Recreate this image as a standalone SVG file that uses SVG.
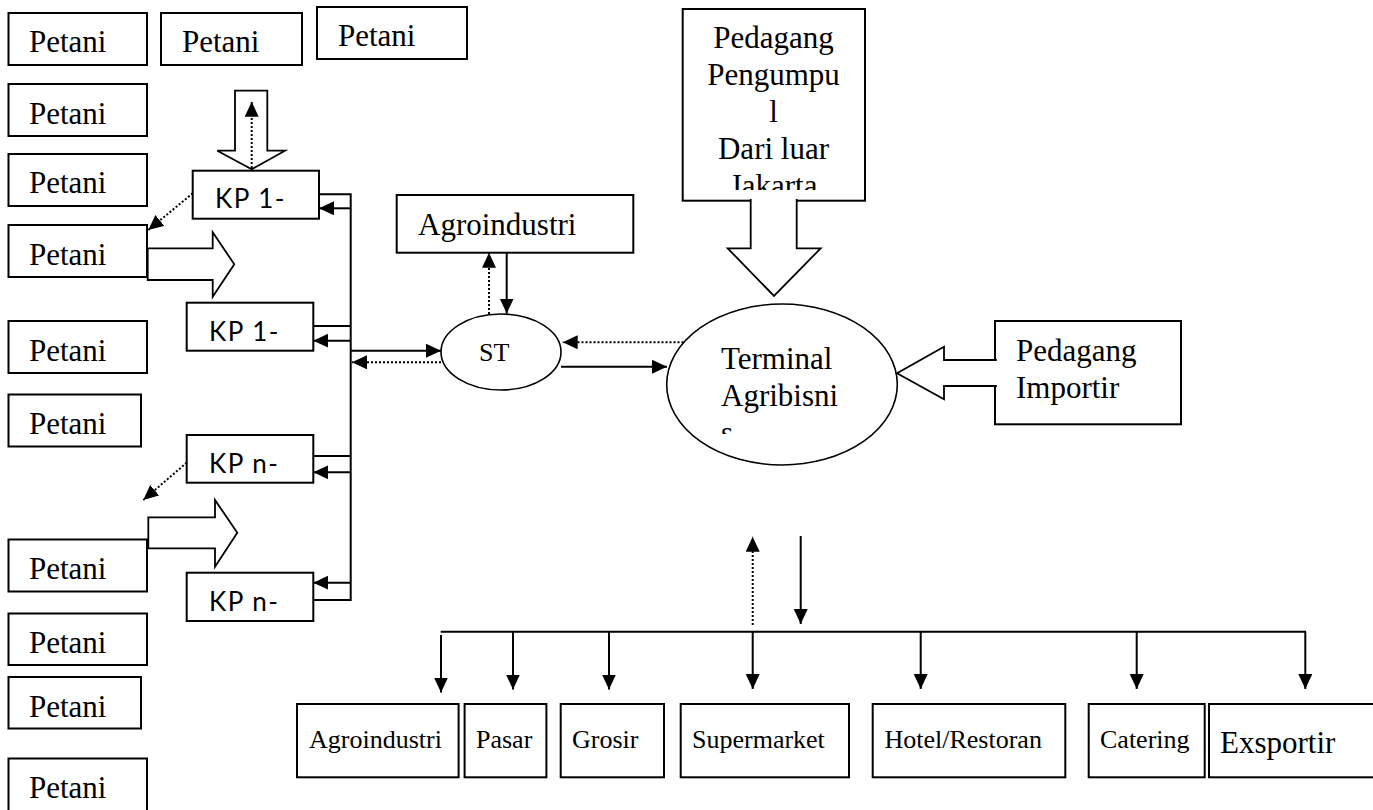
<svg xmlns="http://www.w3.org/2000/svg" width="1373" height="810" viewBox="0 0 1373 810">
<defs>
<style>
.box{fill:#fff;stroke:#000;stroke-width:2}
.ell{fill:#fff;stroke:#000;stroke-width:1.6}
.big{fill:#fff;stroke:#000;stroke-width:1.8;stroke-linejoin:miter}
.t{font-family:"Liberation Serif","Times New Roman",serif;fill:#000}
.t31{font-size:31px}
.t26{font-size:26px}
.kp{font-family:Lato,"Open Sans","DejaVu Sans",sans-serif;font-size:26px;letter-spacing:1.5px;fill:#000}
.ln{fill:none;stroke:#000;stroke-width:2}
.dot{fill:none;stroke:#000;stroke-width:2;stroke-dasharray:2 2}
.arr{marker-end:url(#ah)}
</style>
<marker id="ah" markerUnits="userSpaceOnUse" markerWidth="16" markerHeight="16" viewBox="0 0 16 16" refX="15" refY="7" orient="auto">
<path d="M0,0 L15,7 L0,14 Z" fill="#000"/>
</marker>
<clipPath id="clipPed"><rect x="684" y="10" width="180" height="180"/></clipPath>
<clipPath id="clipTerm"><rect x="690" y="320" width="190" height="114"/></clipPath>
</defs>

<g id="petani-1"><rect class="box" x="8.5" y="13" width="138.5" height="52"/><text class="t t31" x="29" y="52">Petani</text></g>
<g id="petani-2"><rect class="box" x="161" y="13" width="141" height="52"/><text class="t t31" x="182" y="52">Petani</text></g>
<g id="petani-3"><rect class="box" x="317" y="7" width="150" height="52"/><text class="t t31" x="338" y="46">Petani</text></g>
<g id="petani-4"><rect class="box" x="8.5" y="84" width="138.5" height="52"/><text class="t t31" x="29" y="124">Petani</text></g>
<g id="petani-5"><rect class="box" x="8.5" y="154" width="138.5" height="52"/><text class="t t31" x="29" y="193">Petani</text></g>
<g id="petani-6"><rect class="box" x="8.5" y="225" width="138.5" height="52"/><text class="t t31" x="29" y="265">Petani</text></g>
<g id="petani-7"><rect class="box" x="8.5" y="321" width="138.5" height="52"/><text class="t t31" x="29" y="361">Petani</text></g>
<g id="petani-8"><rect class="box" x="8.5" y="394.5" width="132.5" height="52"/><text class="t t31" x="29" y="434">Petani</text></g>
<g id="petani-9"><rect class="box" x="8.5" y="539.5" width="138.5" height="52"/><text class="t t31" x="29" y="579">Petani</text></g>
<g id="petani-10"><rect class="box" x="8.5" y="613.5" width="138.5" height="51.5"/><text class="t t31" x="29" y="653">Petani</text></g>
<g id="petani-11"><rect class="box" x="8.5" y="677" width="132.5" height="51.5"/><text class="t t31" x="29" y="717">Petani</text></g>
<g id="petani-12"><rect class="box" x="8.5" y="758.5" width="138.5" height="60"/><text class="t t31" x="29" y="798">Petani</text></g>

<g id="kp-1a"><rect class="box" x="192.7" y="170.7" width="126.3" height="48"/><text class="kp" x="215" y="208">KP 1-</text></g>
<g id="kp-1b"><rect class="box" x="186.7" y="302.7" width="126.6" height="48"/><text class="kp" x="209" y="341">KP 1-</text></g>
<g id="kp-na"><rect class="box" x="186.7" y="435" width="126.6" height="47.7"/><text class="kp" x="209" y="473">KP n-</text></g>
<g id="kp-nb"><rect class="box" x="186.7" y="572.7" width="126.6" height="48.3"/><text class="kp" x="209" y="611">KP n-</text></g>

<g id="agroindustri-top"><rect class="box" x="396.7" y="195" width="236.6" height="57.7"/><text class="t t31" x="418" y="235">Agroindustri</text></g>
<g id="st"><ellipse class="ell" cx="501" cy="352" rx="60" ry="38"/><text class="t t26" x="479" y="361">ST</text></g>

<g id="pedagang-pengumpul"><rect class="box" x="682.7" y="9" width="182.3" height="191.7"/>
<g clip-path="url(#clipPed)" text-anchor="middle">
<text class="t t31" x="773.5" y="48">Pedagang</text>
<text class="t t31" x="773.5" y="85">Pengumpu</text>
<text class="t t31" x="773.5" y="122">l</text>
<text class="t t31" x="773.5" y="159">Dari luar</text>
<text class="t t31" x="773.5" y="196">Jakarta</text>
</g></g>

<g id="terminal"><ellipse class="ell" cx="782" cy="384.5" rx="115.3" ry="80.5"/>
<g clip-path="url(#clipTerm)">
<text class="t t31" x="721" y="369">Terminal</text>
<text class="t t31" x="721" y="406">Agribisni</text>
<text class="t t31" x="721" y="443">s</text>
</g></g>

<g id="pedagang-importir"><rect class="box" x="995" y="321" width="186" height="103.3"/><text class="t t31" x="1016" y="361">Pedagang</text><text class="t t31" x="1016" y="398">Importir</text></g>

<g id="agroindustri-bottom"><rect class="box" x="297" y="704" width="161.6" height="73.3"/><text class="t t26" x="309" y="748">Agroindustri</text></g>
<g id="pasar"><rect class="box" x="464.6" y="704" width="81.8" height="73.3"/><text class="t t26" x="476" y="748">Pasar</text></g>
<g id="grosir"><rect class="box" x="560.7" y="704" width="103.3" height="73.3"/><text class="t t26" x="572" y="748">Grosir</text></g>
<g id="supermarket"><rect class="box" x="680.7" y="704" width="168.3" height="73.3"/><text class="t t26" x="692" y="748">Supermarket</text></g>
<g id="hotel-restoran"><rect class="box" x="872.7" y="704" width="192.6" height="73.3"/><text class="t t26" x="884.5" y="748">Hotel/Restoran</text></g>
<g id="catering"><rect class="box" x="1088.7" y="704" width="116" height="73.3"/><text class="t t26" x="1100" y="748">Catering</text></g>
<g id="exsportir"><rect class="box" x="1209" y="704" width="180" height="73.3"/><text class="t t31" x="1220" y="753">Exsportir</text></g>

<g id="connectors">
<!-- hollow block arrows -->
<path class="big" d="M235,90.7 H267.3 V150.7 H285 L251.7,169.3 L217.3,150.7 H235 Z"/>
<path class="big" d="M147.7,248.3 H212.7 V232.3 L234.3,264.3 L212.7,296.7 V280 H147.7 Z"/>
<path class="big" d="M148.3,517.3 H215 V500 L237.3,532.7 L215,566.7 V548.3 H148.3 Z"/>
<path class="big" d="M750.7,199 V248.3 H727.7 L774,296 L820.7,248.3 H796.7 V199"/>
<path class="big" d="M996.8,360 H944 V346.7 L897,373.3 L944,399.3 V386 H996.8"/>

<!-- dotted arrows -->
<line class="dot arr" x1="251.7" y1="168" x2="251.7" y2="101.7"/>
<line class="dot arr" x1="192.7" y1="193.3" x2="148.3" y2="230"/>
<line class="dot arr" x1="186.7" y1="462.7" x2="143.3" y2="500"/>
<line class="dot arr" x1="441" y1="362.3" x2="352" y2="362.3"/>
<line class="dot arr" x1="489" y1="314" x2="489" y2="252.7"/>
<line class="dot arr" x1="683.5" y1="342.3" x2="562.7" y2="342.3"/>
<line class="dot arr" x1="752.7" y1="625" x2="752.7" y2="536.7"/>

<!-- KP bus -->
<polyline class="ln" points="319,194.3 350.7,194.3 350.7,600 313.3,600"/>
<line class="ln" x1="313.3" y1="326" x2="350.7" y2="326"/>
<line class="ln" x1="313.3" y1="456" x2="350.7" y2="456"/>
<line class="ln arr" x1="350.7" y1="208.3" x2="319" y2="208.3"/>
<line class="ln arr" x1="350.7" y1="340.7" x2="313.3" y2="340.7"/>
<line class="ln arr" x1="350.7" y1="472.3" x2="313.3" y2="472.3"/>
<line class="ln arr" x1="350.7" y1="582.7" x2="313.3" y2="582.7"/>
<line class="ln arr" x1="350.7" y1="350.7" x2="441" y2="350.7"/>

<!-- ST links -->
<line class="ln arr" x1="506.7" y1="252.7" x2="506.7" y2="313.5"/>
<line class="ln arr" x1="561" y1="366.7" x2="667" y2="366.7"/>

<!-- distribution bus -->
<line class="ln arr" x1="800.7" y1="536" x2="800.7" y2="624"/>
<line class="ln" x1="440.7" y1="631.7" x2="1306" y2="631.7"/>
<line class="ln arr" x1="441" y1="635" x2="441" y2="692.5"/>
<line class="ln arr" x1="513" y1="631.7" x2="513" y2="689.5"/>
<line class="ln arr" x1="609" y1="631.7" x2="609" y2="689.5"/>
<line class="ln arr" x1="752.7" y1="631.7" x2="752.7" y2="689"/>
<line class="ln arr" x1="920.7" y1="631.7" x2="920.7" y2="689"/>
<line class="ln arr" x1="1136.7" y1="631.7" x2="1136.7" y2="689"/>
<line class="ln arr" x1="1305.3" y1="631.7" x2="1305.3" y2="689"/>
</g>
</svg>
